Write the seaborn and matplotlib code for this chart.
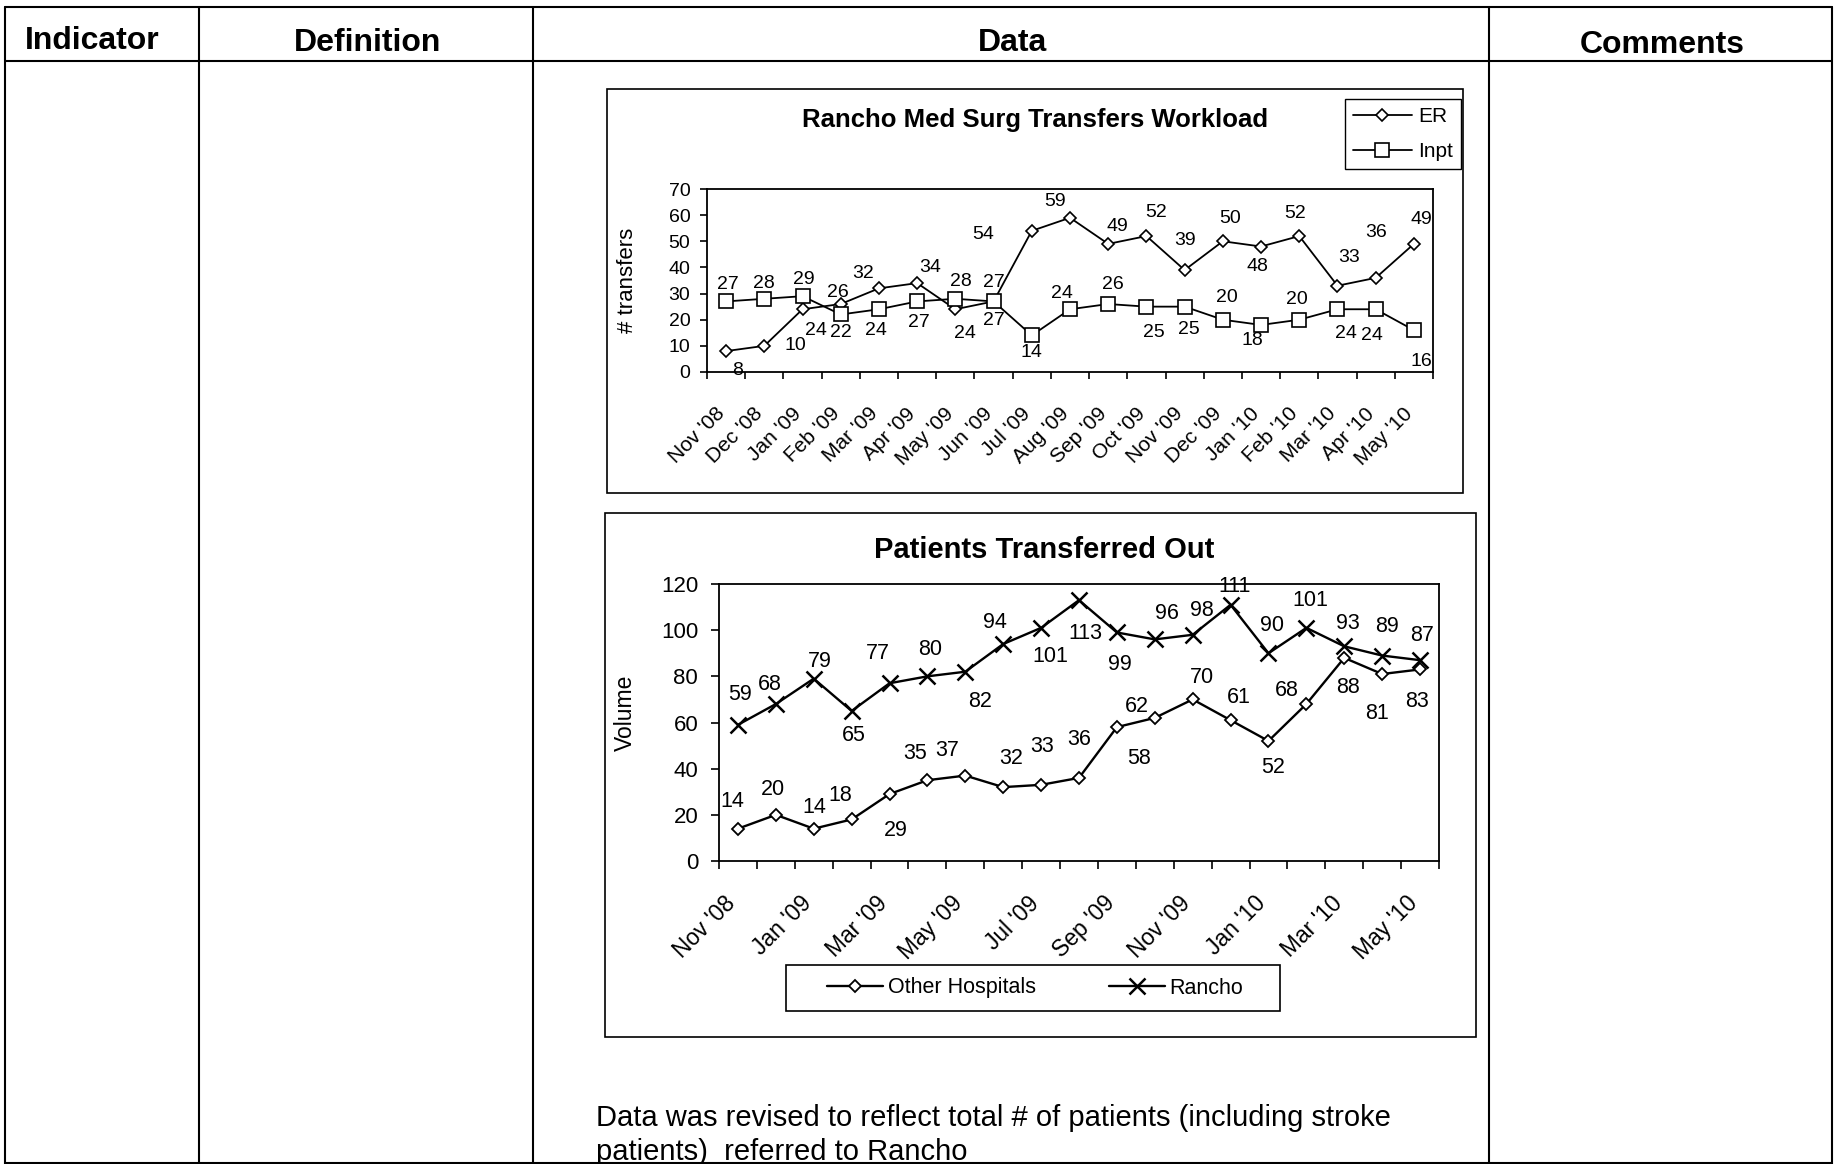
import numpy as np
import pandas as pd
import matplotlib
matplotlib.use("Agg")
import matplotlib.pyplot as plt
import seaborn as sns
from matplotlib.patches import Rectangle
from matplotlib.lines import Line2D
from matplotlib.transforms import ScaledTranslation

# ---------------- data ----------------
months = ["Nov '08", "Dec '08", "Jan '09", "Feb '09", "Mar '09", "Apr '09", "May '09",
          "Jun '09", "Jul '09", "Aug '09", "Sep '09", "Oct '09", "Nov '09", "Dec '09",
          "Jan '10", "Feb '10", "Mar '10", "Apr '10", "May '10"]
er = [8, 10, 24, 26, 32, 34, 24, 27, 54, 59, 49, 52, 39, 50, 48, 52, 33, 36, 49]
inpt = [27, 28, 29, 22, 24, 27, 28, 27, 14, 24, 26, 25, 25, 20, 18, 20, 24, 24, 16]
other_hosp = [14, 20, 14, 18, 29, 35, 37, 32, 33, 36, 58, 62, 70, 61, 52, 68, 88, 81, 83]
rancho = [59, 68, 79, 65, 77, 80, 82, 94, 101, 113, 99, 96, 98, 111, 90, 101, 93, 89, 87]
bottom_labels = ["Nov '08", "Jan '09", "Mar '09", "May '09", "Jul '09", "Sep '09",
                 "Nov '09", "Jan '10", "Mar '10", "May '10"]
top_yticks = [0, 10, 20, 30, 40, 50, 60, 70]
bottom_yticks = [0, 20, 40, 60, 80, 100, 120]

headers = ["Indicator", "Definition", "Data", "Comments"]
note_lines = ["Data was revised to reflect total # of patients (including stroke",
              "patients)  referred to Rancho"]

# ---------------- label offsets (layout, pixels: dx right, dy down) ----------------
er_off = [(11, 19), (31, 0), (13, 21), (-3, -12), (-16, -15), (13, -16), (10, 24), (0, 19),
          (-49, 4), (-15, -16), (9, -17), (10, -24), (0, -30), (7, -23), (-4, 20), (-4, -23),
          (12, -28), (0, -45), (7, -24)]
inpt_off = [(2, -17), (0, -15), (1, -17), (0, 18), (-3, 21), (2, 21), (6, -17), (0, -19),
            (0, 17), (-8, -16), (5, -20), (7, 26), (4, 23), (4, -22), (-9, 16), (-2, -20),
            (8, 24), (-4, 26), (7, 31)]
rancho_off = [(2, -30), (-6, -20), (6, -17), (2, 25), (-12, -30), (3, -27), (15, 30), (-8, -22),
              (9, 29), (6, 33), (3, 32), (12, -26), (9, -24), (4, -18), (4, -28), (4, -27),
              (4, -23), (5, -29), (2, -25)]
other_off = [(-6, -27), (-3, -25), (1, -21), (-11, -24), (6, 36), (-12, -27), (-18, -25),
             (8, -29), (1, -38), (0, -38), (22, 31), (-18, -11), (9, -22), (8, -23), (5, 27),
             (-20, -14), (4, 30), (-5, 39), (-3, 32)]

# ---------------- style ----------------
sns.set_style("white")
plt.rcParams["font.family"] = ["Liberation Sans", "DejaVu Sans"]
for k in ["text.color", "axes.labelcolor", "xtick.color", "ytick.color", "axes.edgecolor"]:
    plt.rcParams[k] = "black"

W, H = 1835, 1164
fig = plt.figure(figsize=(W / 100, H / 100), dpi=100)
fig.patch.set_facecolor("white")


def fx(x):
    return x / W


def fy(y):
    return 1 - y / H


def hline(x0, x1, y, lw=1.5):
    fig.add_artist(Line2D([fx(x0), fx(x1)], [fy(y), fy(y)], color="black", lw=lw,
                          transform=fig.transFigure))


def vline(x, y0, y1, lw=1.5):
    fig.add_artist(Line2D([fx(x), fx(x)], [fy(y0), fy(y1)], color="black", lw=lw,
                          transform=fig.transFigure))


def box(x0, y0, x1, y1, lw=1.2):
    fig.add_artist(Rectangle((fx(x0), fy(y1)), fx(x1) - fx(x0), fy(y0) - fy(y1),
                             transform=fig.transFigure, fill=False, edgecolor="black", lw=lw))


# ---------------- table frame ----------------
hline(5, 1832, 7)
hline(5, 1832, 61)
hline(5, 1832, 1163)
for xv in [5, 199, 533, 1489, 1832]:
    vline(xv, 7, 1164)

header_pos = [(92, 41), (368, 43), (1012, 43), (1662, 45)]
for txt, (hx, hy) in zip(headers, header_pos):
    fig.text(fx(hx), fy(hy), txt, ha="center", va="center", fontsize=23, fontweight="bold")

# chart boxes
box(607, 89, 1463, 493)
box(605, 513, 1476, 1037)

df = pd.DataFrame({"idx": np.arange(len(months)), "month": months, "ER": er, "Inpt": inpt,
                   "Other": other_hosp, "Rancho": rancho})


def style_axes(ax, ymax, yticks, fs, pad_y, tick_len):
    ax.set_xlim(-0.5, len(months) - 0.5)
    ax.set_ylim(0, ymax)
    ax.set_yticks(yticks)
    ax.set_yticklabels([str(v) for v in yticks], fontsize=fs)
    ax.set_xticks(np.arange(len(months) + 1) - 0.5)
    ax.set_xticklabels([])
    ax.tick_params(axis="both", which="major", direction="out", length=tick_len, width=1.2,
                   color="black", bottom=True, left=True)
    ax.tick_params(axis="y", pad=pad_y)
    for s in ax.spines.values():
        s.set_visible(True)
        s.set_color("black")
        s.set_linewidth(1.3)
    ax.grid(False)
    ax.set_facecolor("white")


def set_cat_labels(ax, positions, labels, fs, pad, dx_px):
    ax.set_xticks(positions, minor=True)
    ax.set_xticklabels(labels, minor=True, rotation=45, ha="right", va="top",
                       rotation_mode="anchor", fontsize=fs)
    ax.tick_params(axis="x", which="minor", length=0, pad=pad)
    for lab in ax.get_xticklabels(minor=True):
        lab.set_transform(lab.get_transform() + ScaledTranslation(dx_px / 100, 0, fig.dpi_scale_trans))


def add_labels(ax, vals, offs, fs):
    for i, (v, (dx, dy)) in enumerate(zip(vals, offs)):
        ax.annotate(str(v), (i, v), xytext=(dx, -dy), textcoords="offset pixels",
                    ha="center", va="center", fontsize=fs, annotation_clip=False)


# ---------------- top chart ----------------
ax1 = fig.add_axes([fx(707), fy(372), (1433 - 707) / W, (372 - 189) / H])
sns.lineplot(data=df, x="idx", y="ER", ax=ax1, color="black", linewidth=1.3, marker="D",
             markersize=6.5, markerfacecolor="white", markeredgecolor="black",
             markeredgewidth=1.2, legend=False)
sns.lineplot(data=df, x="idx", y="Inpt", ax=ax1, color="black", linewidth=1.3, marker="s",
             markersize=10.5, markerfacecolor="white", markeredgecolor="black",
             markeredgewidth=1.2, legend=False)
style_axes(ax1, 70, top_yticks, 14, 7, 5)
set_cat_labels(ax1, np.arange(len(months)), months, 15, 23, -11)
ax1.set_xlabel("")
ax1.set_ylabel("# transfers", fontsize=16)
ax1.yaxis.set_label_coords((627 - 707) / 726, 0.5)
ax1.yaxis.label.set_va("center")
add_labels(ax1, er, er_off, 14)
add_labels(ax1, inpt, inpt_off, 14)
fig.text(fx(1035), fy(120), "Rancho Med Surg Transfers Workload", ha="center", va="center",
         fontsize=18.5, fontweight="bold")

h_er = Line2D([], [], color="black", lw=1.3, marker="D", markersize=6.5,
              markerfacecolor="white", markeredgecolor="black", markeredgewidth=1.2)
h_in = Line2D([], [], color="black", lw=1.3, marker="s", markersize=10.5,
              markerfacecolor="white", markeredgecolor="black", markeredgewidth=1.2)
leg1 = ax1.legend([h_er, h_in], ["ER", "Inpt"], loc="upper right",
                  bbox_to_anchor=(fx(1461), fy(99)), bbox_transform=fig.transFigure,
                  fontsize=15, frameon=True, fancybox=False, edgecolor="black",
                  framealpha=1, handlelength=2.8, handletextpad=0.3, borderpad=0.4,
                  labelspacing=0.75, borderaxespad=0)
leg1.get_frame().set_linewidth(1.0)

# ---------------- bottom chart ----------------
ax2 = fig.add_axes([fx(719), fy(861), (1439 - 719) / W, (861 - 584) / H])
sns.lineplot(data=df, x="idx", y="Other", ax=ax2, color="black", linewidth=1.7, marker="D",
             markersize=6.5, markerfacecolor="white", markeredgecolor="black",
             markeredgewidth=1.3, legend=False)
sns.lineplot(data=df, x="idx", y="Rancho", ax=ax2, color="black", linewidth=1.7, marker="x",
             markersize=11, markeredgecolor="black", markeredgewidth=1.8, legend=False)
style_axes(ax2, 120, bottom_yticks, 16, 9, 6)
set_cat_labels(ax2, np.arange(0, len(months), 2), bottom_labels, 16.5, 22, -14)
ax2.set_xlabel("")
ax2.set_ylabel("Volume", fontsize=16.5)
ax2.yaxis.set_label_coords((625 - 719) / 720, (861 - 713) / 277)
ax2.yaxis.label.set_va("center")
add_labels(ax2, other_hosp, other_off, 15.5)
add_labels(ax2, rancho, rancho_off, 15.5)
fig.text(fx(1044), fy(550), "Patients Transferred Out", ha="center", va="center",
         fontsize=21, fontweight="bold")

box(786, 965, 1280, 1011, lw=1.2)
h_ot = Line2D([], [], color="black", lw=1.7, marker="D", markersize=6.5,
              markerfacecolor="white", markeredgecolor="black", markeredgewidth=1.3)
h_ra = Line2D([], [], color="black", lw=1.7, marker="x", markersize=11,
              markeredgecolor="black", markeredgewidth=1.8)
leg2 = ax2.legend([h_ot, h_ra], ["Other Hospitals", "Rancho"], loc="center",
                  bbox_to_anchor=(fx(1035), fy(988)), bbox_transform=fig.transFigure,
                  ncol=2, fontsize=15.5, frameon=False, handlelength=2.6, handletextpad=0.2,
                  columnspacing=3.4, borderaxespad=0)

# ---------------- note ----------------
for i, line in enumerate(note_lines):
    fig.text(fx(596), fy(1118 + 34 * i), line, ha="left", va="center", fontsize=21)

fig.savefig("out.png", dpi=100, facecolor="white")
